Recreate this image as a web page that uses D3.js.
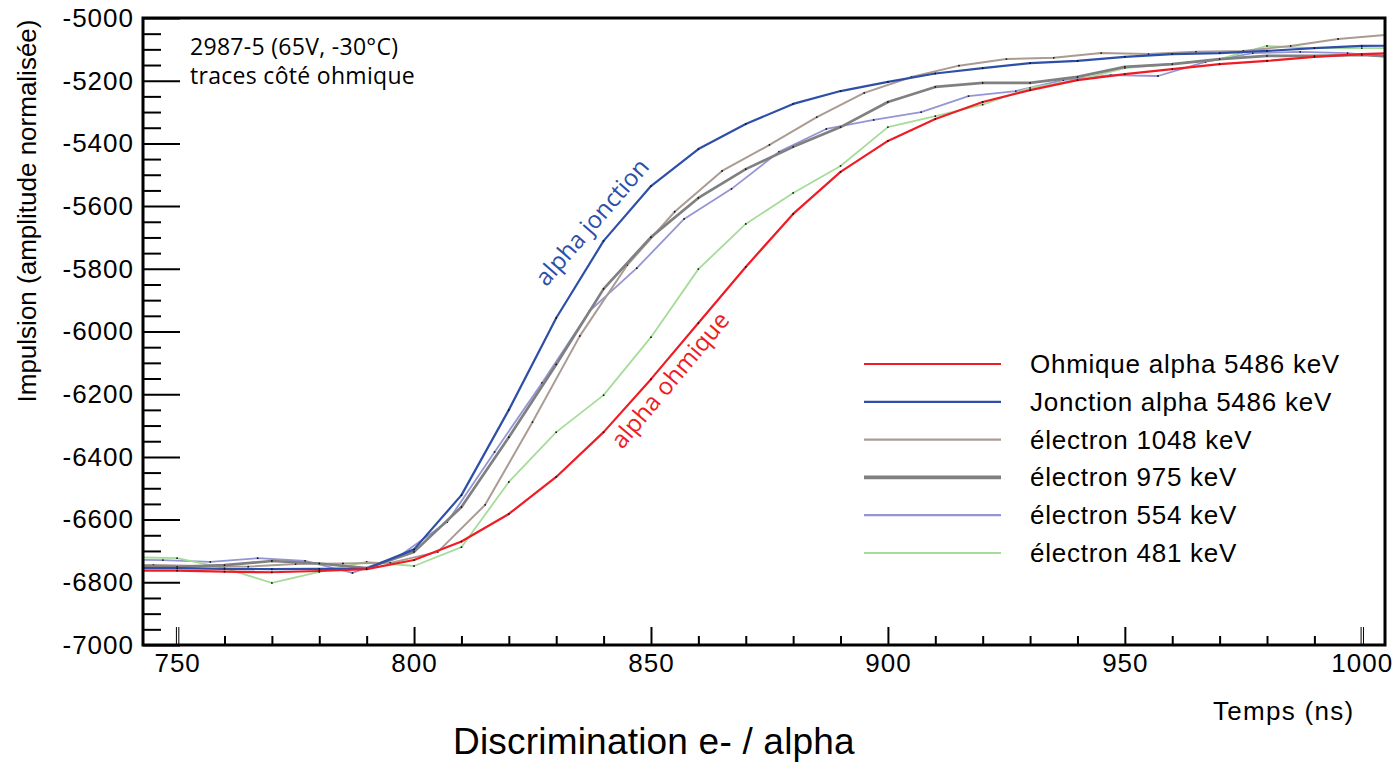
<!DOCTYPE html>
<html>
<head>
<meta charset="utf-8">
<script src="https://d3js.org/d3.v7.min.js"></script>
<style>
    body { margin: 0; background: #ffffff; }
    svg { display: block; }
</style>
</head>
<body>
<svg id="drawing_region"></svg>
<script>
// sampling times (ns): most traces on a 10 ns grid, two shifted
const times10 = [740, 750, 760, 770, 780, 790, 800, 810, 820, 830, 840, 850, 860, 870,
                 880, 890, 900, 910, 920, 930, 940, 950, 960, 970, 980, 990, 1000, 1010];
const times5  = [735, 745, 755, 765, 775, 785, 795, 805, 815, 825, 835, 845, 855, 865,
                 875, 885, 895, 905, 915, 925, 935, 945, 955, 965, 975, 985, 995, 1005, 1015];
const times7  = [737, 747, 757, 767, 777, 787, 797, 807, 817, 827, 837, 847, 857, 867,
                 877, 887, 897, 907, 917, 927, 937, 947, 957, 967, 977, 987, 997, 1007];

// pulse amplitudes (normalised)
const ohmAlpha = [-6763, -6763, -6766, -6768, -6764, -6758, -6729, -6670, -6582, -6464, -6321, -6152, -5973, -5794,
                  -5625, -5491, -5392, -5322, -5268, -5230, -5198, -5179, -5163, -5147, -5137, -5124, -5115, -5110];
const joncAlpha = [-6755, -6755, -6757, -6758, -6757, -6757, -6695, -6522, -6250, -5957, -5711, -5536, -5418, -5338,
                   -5274, -5233, -5204, -5177, -5160, -5144, -5137, -5124, -5115, -5112, -5105, -5096, -5089, -5088];
const elec1048 = [-6745, -6745, -6748, -6750, -6742, -6740, -6738, -6703, -6553, -6289, -6014, -5788, -5618, -5488,
                  -5405, -5316, -5239, -5188, -5152, -5131, -5127, -5112, -5115, -5108, -5105, -5089, -5067, -5054, -5045];
const elec975  = [-6748, -6751, -6745, -6732, -6740, -6755, -6703, -6560, -6337, -6105, -5864, -5699, -5574, -5482,
                  -5411, -5348, -5268, -5220, -5207, -5207, -5188, -5156, -5147, -5131, -5121, -5121, -5118, -5126];
const elec554  = [-6728, -6729, -6735, -6723, -6732, -6770, -6715, -6608, -6384, -6164, -5935, -5798, -5641, -5545,
                  -5427, -5354, -5325, -5300, -5249, -5233, -5198, -5182, -5185, -5140, -5112, -5108, -5112, -5126];
const elec481  = [-6720, -6723, -6755, -6802, -6767, -6735, -6748, -6688, -6480, -6321, -6203, -6018, -5801, -5657,
                  -5558, -5472, -5348, -5313, -5276, -5223, -5198, -5160, -5147, -5131, -5089, -5096, -5096, -5096];

const seriesNames = ['Ohmique alpha 5486 keV', 'Jonction alpha 5486 keV', 'électron 1048 keV',
                     'électron 975 keV', 'électron 554 keV', 'électron 481 keV'];

// axis ticks
const xMajor = [750, 800, 850, 900, 950, 1000];
const xMinor = [760, 770, 780, 790, 810, 820, 830, 840, 860, 870, 880, 890,
                910, 920, 930, 940, 960, 970, 980, 990];
const yMajor = [-7000, -6800, -6600, -6400, -6200, -6000, -5800, -5600, -5400, -5200, -5000];
const yMinor = [-6950, -6900, -6850, -6750, -6700, -6650, -6550, -6500, -6450, -6350, -6300, -6250,
                -6150, -6100, -6050, -5950, -5900, -5850, -5750, -5700, -5650, -5550, -5500, -5450,
                -5350, -5300, -5250, -5150, -5100, -5050];

const width  = 1394;
const height = 763;
const margin = { top: 18, right: 9, bottom: 118, left: 143 };

const series = [
    { name: seriesNames[4], t: times7,  v: elec554,   color: '#9595d6', lw: 1.8, legendLw: 2.2 },
    { name: seriesNames[5], t: times10, v: elec481,   color: '#a6dc9a', lw: 1.8, legendLw: 2.2 },
    { name: seriesNames[2], t: times5,  v: elec1048,  color: '#aa9b93', lw: 2,   legendLw: 2.2 },
    { name: seriesNames[3], t: times10, v: elec975,   color: '#808080', lw: 2.7, legendLw: 3.8 },
    { name: seriesNames[1], t: times10, v: joncAlpha, color: '#2d4fa8', lw: 2.2, legendLw: 2.2 },
    { name: seriesNames[0], t: times10, v: ohmAlpha,  color: '#ee1c24', lw: 2.2, legendLw: 2.2 }
];

const svg = d3.select('#drawing_region')
    .attr('width', width)
    .attr('height', height);

const inner_width  = width  - margin.left - margin.right;
const inner_height = height - margin.top  - margin.bottom;

const chart = svg.append('g')
    .attr('transform', `translate(${margin.left}, ${margin.top})`);

const xscale = d3.scaleLinear()
    .domain([742.8, 1004.9])
    .range([0, inner_width]);

const yscale = d3.scaleLinear()
    .domain([-7000, -5000])
    .range([inner_height, 0]);

chart.append('clipPath')
    .attr('id', 'plot_clip')
    .append('rect')
    .attr('width', inner_width)
    .attr('height', inner_height);

// minor ticks
chart.append('g')
    .attr('transform', `translate(0, ${inner_height})`)
    .call(d3.axisBottom(xscale).tickValues(xMinor).tickSize(-9).tickFormat(''))
    .call(g => g.select('.domain').remove())
    .selectAll('line').attr('stroke-width', 2);

chart.append('g')
    .call(d3.axisLeft(yscale).tickValues(yMinor).tickSize(-18).tickFormat(''))
    .call(g => g.select('.domain').remove())
    .selectAll('line').attr('stroke-width', 2);

// major ticks + labels
const xg = chart.append('g')
    .attr('transform', `translate(0, ${inner_height})`)
    .call(d3.axisBottom(xscale).tickValues(xMajor).tickSize(-18).tickPadding(9).tickFormat(d => String(d)))
    .call(g => g.select('.domain').remove());

xg.selectAll('line').attr('stroke-width', 2);
xg.selectAll('.tick')
    .filter(d => d === 750 || d === 1000)
    .each(function () {
        const t = d3.select(this);
        t.select('line').attr('x1', -1.2).attr('x2', -1.2).attr('stroke-width', 1);
        t.append('line').attr('x1', 1.2).attr('x2', 1.2).attr('y2', -18)
            .attr('stroke', 'currentColor').attr('stroke-width', 1);
    });

const yg = chart.append('g')
    .call(d3.axisLeft(yscale).tickValues(yMajor).tickSize(-37).tickPadding(9).tickFormat(d => String(d)))
    .call(g => g.select('.domain').remove());

yg.selectAll('line').attr('stroke-width', 2);

chart.selectAll('.tick text')
    .attr('font-family', '"Liberation Sans", Arial, sans-serif')
    .attr('font-size', '26px')
    .attr('letter-spacing', '1px')
    .attr('fill', '#000');

// traces
const plot = chart.append('g').attr('clip-path', 'url(#plot_clip)');

const line = d3.line()
    .x(d => xscale(d[0]))
    .y(d => yscale(d[1]));

series.forEach(s => {
    const pts = s.t.map((t, i) => [t, s.v[i]]);

    plot.append('path')
        .datum(pts)
        .attr('fill', 'none')
        .attr('stroke', s.color)
        .attr('stroke-width', s.lw)
        .attr('stroke-linejoin', 'round')
        .attr('d', line);

    plot.selectAll(null)
        .data(pts)
        .enter()
        .append('circle')
        .attr('cx', d => xscale(d[0]))
        .attr('cy', d => yscale(d[1]))
        .attr('r', 0.9)
        .attr('fill', '#111');
});

// frame
chart.append('rect')
    .attr('width', inner_width)
    .attr('height', inner_height)
    .attr('fill', 'none')
    .attr('stroke', '#000')
    .attr('stroke-width', 3);

// legend
const legendOrder = [5, 4, 2, 3, 0, 1];
const legend = svg.append('g');
legendOrder.forEach((k, i) => {
    const s = series[k];
    const ly = 364 + i * 37.8;
    legend.append('line')
        .attr('x1', 864).attr('x2', 1001)
        .attr('y1', ly).attr('y2', ly)
        .attr('stroke', s.color)
        .attr('stroke-width', s.legendLw);
    legend.append('text')
        .attr('x', 1030)
        .attr('y', ly + 9)
        .attr('font-family', '"Liberation Sans", Arial, sans-serif')
        .attr('font-size', '26px')
        .attr('letter-spacing', '0.75px')
        .text(s.name);
});

// annotations
svg.append('text')
    .attr('x', 190).attr('y', 55)
    .attr('font-family', '"Open Sans", sans-serif')
    .attr('font-size', '23px')
    .attr('letter-spacing', '0.3px')
    .text('2987-5 (65V, -30°C)');

svg.append('text')
    .attr('x', 190).attr('y', 84)
    .attr('font-family', '"Open Sans", sans-serif')
    .attr('font-size', '23px')
    .attr('letter-spacing', '0.3px')
    .text('traces côté ohmique');

svg.append('text')
    .attr('transform', 'translate(592, 222) rotate(-49)')
    .attr('text-anchor', 'middle')
    .attr('dy', '0.35em')
    .attr('font-family', '"Open Sans", sans-serif')
    .attr('font-size', '24px')
    .attr('fill', '#2d4fa8')
    .text('alpha jonction');

svg.append('text')
    .attr('transform', 'translate(670, 380) rotate(-50)')
    .attr('text-anchor', 'middle')
    .attr('dy', '0.35em')
    .attr('font-family', '"Open Sans", sans-serif')
    .attr('font-size', '24px')
    .attr('fill', '#ee1c24')
    .text('alpha ohmique');

// axis titles
svg.append('text')
    .attr('x', 1213).attr('y', 720)
    .attr('font-family', '"Liberation Sans", Arial, sans-serif')
    .attr('font-size', '26px')
    .attr('letter-spacing', '1.3px')
    .text('Temps (ns)');

svg.append('text')
    .attr('transform', 'translate(36, 211) rotate(-90)')
    .attr('text-anchor', 'middle')
    .attr('font-family', '"Liberation Sans", Arial, sans-serif')
    .attr('font-size', '26px')
    .text('Impulsion (amplitude normalisée)');

svg.append('text')
    .attr('x', 453).attr('y', 754)
    .attr('font-family', '"Liberation Sans", Arial, sans-serif')
    .attr('font-size', '37px')
    .attr('letter-spacing', '0.2px')
    .text('Discrimination e- / alpha');
</script>
</body>
</html>
